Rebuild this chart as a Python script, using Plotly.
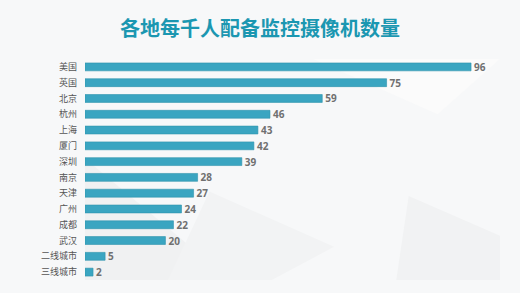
import plotly.graph_objects as go

categories = ["美国", "英国", "北京", "杭州", "上海", "厦门", "深圳", "南京", "天津", "广州", "成都", "武汉", "二线城市", "三线城市"]
values = [96, 75, 59, 46, 43, 42, 39, 28, 27, 24, 22, 20, 5, 2]
title_text = "各地每千人配备监控摄像机数量"

fig = go.Figure(go.Bar(
    x=values, y=categories, orientation="h",
    marker=dict(color="#3aa5c1", line=dict(color="#2f93ad", width=0.6)),
    width=0.5,
    text=["<b>" + str(v) + "</b>" for v in values], textposition="outside",
    constraintext="none",
    textfont=dict(family="Noto Sans", size=10, color="#707070"),
    cliponaxis=False,
))

# faint faceted background
shapes = [
    dict(type="path", xref="paper", yref="paper", path="M 0 0.55 L 0.35 0 L 0 0 Z", fillcolor="#f0f1f2", line=dict(width=0), layer="below"),
    dict(type="path", xref="paper", yref="paper", path="M 0.55 1 L 0.85 0.75 L 1 1 Z", fillcolor="#fbfbfb", line=dict(width=0), layer="below"),
    dict(type="path", xref="paper", yref="paper", path="M 0.78 0.38 L 1 0.2 L 1 0 L 0.75 0 Z", fillcolor="#f1f2f3", line=dict(width=0), layer="below"),
    dict(type="path", xref="paper", yref="paper", path="M 0.3 0.4 L 0.6 0.15 L 0.45 0 L 0.2 0 Z", fillcolor="#f2f3f4", line=dict(width=0), layer="below"),
]

fig.update_layout(
    width=520, height=293,
    margin=dict(l=85, r=20, t=59, b=13),
    paper_bgcolor="#f7f8f9", plot_bgcolor="rgba(0,0,0,0)",
    title=dict(text="<b>" + title_text + "</b>", x=0.5, xanchor="center", y=0.9, yanchor="middle",
               font=dict(family="Noto Sans CJK SC", size=20, color="#1b97b1")),
    xaxis=dict(range=[0, 103.2], visible=False),
    yaxis=dict(autorange="reversed", showgrid=False, zeroline=False, showline=False,
               ticks="", ticklabelstandoff=7,
               tickfont=dict(family="Noto Sans CJK SC", size=9, color="#555555")),
    shapes=shapes,
    showlegend=False,
)

fig.write_html("out.html")
